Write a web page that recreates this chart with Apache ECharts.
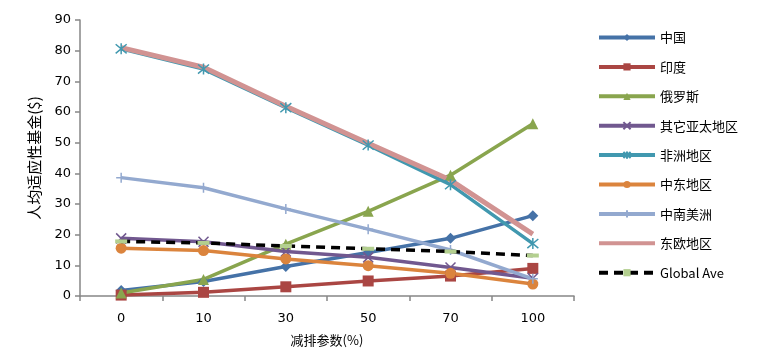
<!DOCTYPE html>
<html><head><meta charset="utf-8">
<script src="https://cdn.jsdelivr.net/npm/echarts@6/dist/echarts.min.js"></script>
<style>html,body{margin:0;padding:0;background:#fff}#c{width:770px;height:356px}</style>
</head><body><div id="c"></div>
<script>
const categories = ['0','10','30','50','70','100'];
const china = [1.8, 4.7, 9.6, 14.2, 18.8, 26.2];
const india = [0.3, 1.2, 3.0, 4.9, 6.5, 9.0];
const russia = [1.0, 5.4, 16.9, 27.6, 39.4, 56.2];
const otherAP = [18.8, 17.7, 14.5, 12.6, 9.3, 5.8];
const africa = [80.6, 74.0, 61.4, 49.2, 36.3, 17.1];
const middleEast = [15.6, 14.8, 12.1, 9.9, 7.4, 3.9];
const latinAm = [38.6, 35.3, 28.4, 21.8, 15.0, 5.6];
const eastEu = [81.0, 74.6, 61.9, 49.8, 37.8, 20.2];
const globalAve = [17.8, 17.3, 16.3, 15.4, 14.5, 13.2];
const yTicks = [0, 10, 20, 30, 40, 50, 60, 70, 80, 90];

const names = ['中国','印度','俄罗斯','其它亚太地区','非洲地区','中东地区','中南美洲','东欧地区','Global Ave'];
const colors = ['#4572A7','#AA4643','#89A54E','#71588F','#4198AF','#DB843D','#93A9CF','#D19392','#000000'];
const X = 'path://M0,0L10,10M10,0L0,10';
const STAR = 'path://M0,0L10,10M10,0L0,10M5,-1L5,11';
const PLUS = 'path://M5,0L5,10M0,5L10,5';
function mk(i, data, symbol, size, extra) {
  return Object.assign({
    name: names[i], type: 'line', data: data, color: colors[i],
    symbol: symbol, symbolSize: size, showSymbol: symbol !== 'none',
    lineStyle: { width: 3.5, color: colors[i] },
    itemStyle: { color: colors[i] },
    animation: false, z: 2
  }, extra || {});
}
const series = [
  mk(0, china, 'diamond', 11),
  mk(1, india, 'rect', 11),
  mk(2, russia, 'triangle', 11),
  mk(3, otherAP, X, 10, { itemStyle: { color: colors[3], borderColor: colors[3], borderWidth: 1.5 } }),
  mk(4, africa, STAR, 11, { itemStyle: { color: colors[4], borderColor: colors[4], borderWidth: 1.5 } }),
  mk(5, middleEast, 'circle', 11),
  mk(6, latinAm, PLUS, 10, { itemStyle: { color: colors[6], borderColor: colors[6], borderWidth: 1.5 } }),
  mk(7, eastEu, 'none', 0, { lineStyle: { width: 5, color: colors[7] } }),
  mk(8, globalAve, 'rect', [12, 4], {
    lineStyle: { width: 3.5, color: '#000', type: [9, 6] },
    itemStyle: { color: '#B3CF8F' }, z: 3
  })
];
const legendData = names.map(n => n === '东欧地区'
  ? { name: n, itemStyle: { opacity: 0 } }
  : { name: n });
const chart = echarts.init(document.getElementById('c'), null, { renderer: 'canvas' });
chart.setOption({
  backgroundColor: '#fff',
  textStyle: { fontFamily: 'DejaVu Sans' },
  grid: { left: 80, right: 196, top: 20, bottom: 60 },
  legend: {
    orient: 'vertical', left: 592, top: 26,
    itemWidth: 56, itemHeight: 9, itemGap: 16.4,
    lineStyle: { width: 4 },
    textStyle: { fontSize: 13, color: '#000', fontFamily: 'Noto Sans CJK SC' },
    data: legendData
  },
  xAxis: {
    type: 'category', data: categories, boundaryGap: true,
    name: '减排参数(%)', nameLocation: 'middle', nameGap: 38,
    nameTextStyle: { fontSize: 13, color: '#000', fontFamily: 'Noto Sans CJK SC' },
    axisLine: { lineStyle: { color: '#868686', width: 1.5 } },
    axisTick: { show: true, length: 5, lineStyle: { color: '#868686', width: 1.5 } },
    axisLabel: { fontSize: 13, color: '#000', margin: 16 }
  },
  yAxis: {
    type: 'value', min: 0, max: 90, interval: 10,
    name: '人均适应性基金($)', nameLocation: 'middle', nameGap: 38,
    nameTextStyle: { fontSize: 15, color: '#000', fontFamily: 'Noto Sans CJK SC' },
    axisLine: { show: true, lineStyle: { color: '#868686', width: 1.5 } },
    axisTick: { show: true, length: 5, lineStyle: { color: '#868686', width: 1.5 } },
    axisLabel: { fontSize: 13, color: '#000', margin: 9,
      formatter: v => yTicks.includes(v) ? String(v) : '' },
    splitLine: { show: false }
  },
  series: series
});
</script></body></html>
